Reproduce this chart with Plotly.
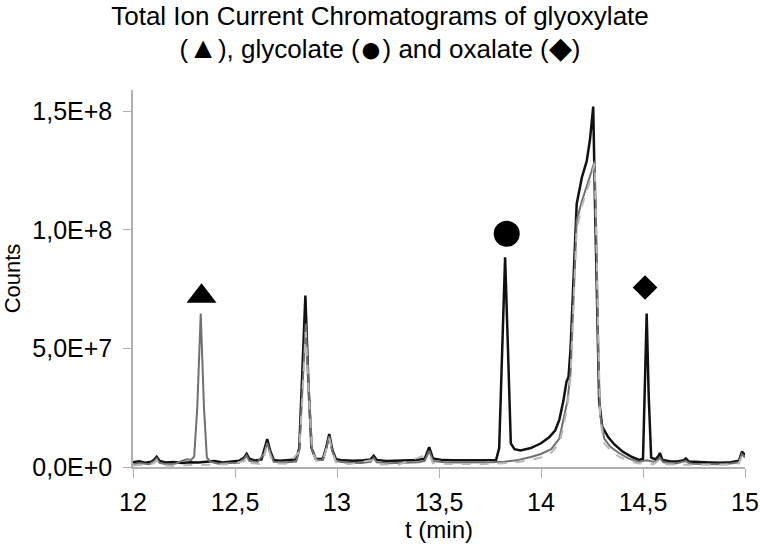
import plotly.graph_objects as go

# retention time (min) and counts (millions)
t_black = [12.00, 12.03, 12.06, 12.09, 12.105, 12.116, 12.13, 12.16, 12.20, 12.24, 12.28, 12.32, 12.36,
           12.40, 12.44, 12.48, 12.52, 12.545, 12.557, 12.57, 12.60, 12.63, 12.645, 12.658, 12.672, 12.69,
           12.72, 12.76, 12.80, 12.815, 12.828, 12.845, 12.86, 12.875, 12.895, 12.93, 12.945, 12.962, 12.978,
           12.995, 13.03, 13.08, 13.13, 13.165, 13.18, 13.195, 13.24, 13.29, 13.34, 13.39, 13.43, 13.452,
           13.47, 13.52, 13.57, 13.62, 13.67, 13.72, 13.78, 13.795, 13.81, 13.824, 13.838, 13.852, 13.87,
           13.90, 13.95, 14.00, 14.04, 14.07, 14.09, 14.11, 14.125, 14.135, 14.145, 14.16, 14.175, 14.20,
           14.224, 14.24, 14.256, 14.265, 14.275, 14.285, 14.30, 14.33, 14.36, 14.40, 14.44, 14.48, 14.50,
           14.508, 14.518, 14.528, 14.54, 14.56, 14.575, 14.583, 14.595, 14.63, 14.67, 14.70, 14.71, 14.725,
           14.78, 14.83, 14.88, 14.93, 14.97, 14.985, 15.00]
y_black = [2.0, 2.4, 1.8, 2.2, 3.2, 4.3, 2.6, 1.9, 2.1, 1.7, 2.0, 1.9, 2.2,
           2.5, 1.9, 2.4, 2.6, 4.0, 5.5, 3.5, 2.7, 3.2, 7.5, 11.8, 7.0, 3.0,
           2.6, 2.9, 3.2, 8.0, 35, 72.3, 35, 8, 3.5, 3.4, 7.5, 13.9, 7,
           3.3, 2.8, 2.6, 2.8, 3.2, 4.7, 3.0, 2.5, 2.7, 2.6, 3.0, 3.5, 8.4,
           3.6, 2.9, 2.8, 2.7, 2.6, 2.8, 3.0, 8, 50, 88.4, 50, 10, 7.5,
           7.0, 8.0, 10.0, 12.5, 15.5, 20, 28, 36, 38, 50, 78, 111, 122,
           129, 138, 152, 110, 65, 28, 17, 12.5, 9.5, 6.5, 4.5, 3.0, 3.5,
           30, 64.7, 30, 4, 3.2, 4.5, 5.9, 3.0, 2.4, 2.3, 2.9, 3.6, 2.3,
           2.0, 1.9, 1.8, 2.0, 2.6, 6.5, 5.0]

t_gray = [12.00, 12.04, 12.08, 12.105, 12.116, 12.13, 12.17, 12.21, 12.24, 12.265, 12.285, 12.30, 12.315,
          12.332, 12.348, 12.362, 12.38, 12.42, 12.47, 12.52, 12.545, 12.557, 12.57, 12.61, 12.645, 12.658,
          12.672, 12.69, 12.74, 12.80, 12.815, 12.83, 12.847, 12.863, 12.878, 12.90, 12.93, 12.945, 12.962,
          12.978, 12.995, 13.05, 13.12, 13.165, 13.18, 13.195, 13.26, 13.33, 13.40, 13.43, 13.452, 13.47,
          13.53, 13.60, 13.68, 13.75, 13.82, 13.88, 13.95, 14.00, 14.05, 14.09, 14.11, 14.13, 14.145, 14.16,
          14.175, 14.20, 14.224, 14.245, 14.263, 14.272, 14.28, 14.29, 14.31, 14.34, 14.38, 14.43, 14.48,
          14.52, 14.56, 14.583, 14.60, 14.66, 14.71, 14.73, 14.80, 14.87, 14.93, 14.97, 14.985, 15.00]
y_gray = [1.2, 1.6, 1.2, 2.5, 3.6, 1.8, 1.1, 1.5, 2.6, 3.3, 3.0, 4.5, 25,
          64.7, 25, 4, 2.2, 1.4, 1.7, 1.8, 3.5, 4.8, 2.6, 2.0, 6, 10.2,
          6, 2.2, 1.9, 2.3, 7, 30, 60.5, 30, 7, 3, 3, 7, 13,
          6.5, 2.5, 1.8, 1.7, 2.2, 3.8, 2.0, 1.6, 1.8, 2.0, 2.6, 6.8, 2.5,
          2.0, 1.9, 1.8, 2.0, 2.2, 2.8, 4.2, 5.5, 7.5, 12, 20, 28, 40, 70,
          104, 112, 118, 124, 129, 95, 50, 22, 12, 8.5, 6, 3.5, 2.2,
          2.8, 2.0, 3.8, 2.0, 1.5, 2.5, 1.4, 1.3, 1.2, 1.5, 2.0, 5.5, 4.0]

t_dash = [12.00, 12.05, 12.10, 12.116, 12.13, 12.18, 12.25, 12.32, 12.40, 12.48, 12.545, 12.557, 12.57,
          12.62, 12.645, 12.658, 12.672, 12.69, 12.76, 12.815, 12.83, 12.847, 12.863, 12.878, 12.90, 12.93,
          12.945, 12.962, 12.978, 12.995, 13.06, 13.18, 13.20, 13.30, 13.452, 13.47, 13.56, 13.70, 13.80,
          13.88, 13.95, 14.00, 14.05, 14.09, 14.11, 14.13, 14.145, 14.16, 14.175, 14.20, 14.224, 14.245,
          14.263, 14.272, 14.28, 14.29, 14.31, 14.34, 14.38, 14.43, 14.48, 14.55, 14.583, 14.60, 14.70,
          14.80, 14.90, 14.97, 14.985, 15.00]
y_dash = [0.6, 1.0, 1.5, 2.8, 1.0, 0.5, 0.8, 0.9, 1.0, 1.2, 2.5, 3.8, 1.8,
          1.3, 5, 9.5, 5, 1.5, 1.3, 6.5, 28, 57, 28, 6.5, 2.5, 2.5,
          6.5, 12, 6, 2.0, 1.2, 3, 1.1, 1.0, 5.5, 1.6, 1.3, 1.2, 1.5,
          2.0, 3.0, 4.0, 6.0, 10, 17, 26, 38, 68, 100, 110, 116, 122,
          128, 93, 48, 20, 10, 7, 4.5, 2.5, 1.5, 1.2, 3.0, 1.2, 1.0,
          0.8, 0.9, 1.5, 4.5, 3.0]

# peak labels: glyoxylate, glycolate, oxalate
mark_t = [12.336, 13.832, 14.51]
mark_y = [72, 98.4, 75.7]
mark_symbol = ["triangle-up", "circle", "diamond"]
mark_size = [26, 26, 19]

x_ticks = [12, 12.5, 13, 13.5, 14, 14.5, 15]
x_labels = ["12", "12,5", "13", "13,5", "14", "14,5", "15"]
y_ticks = [0, 50, 100, 150]
y_labels = ["0,0E+0", "5,0E+7", "1,0E+8", "1,5E+8"]

font = "Liberation Sans, Arial, sans-serif"

fig = go.Figure()
fig.add_trace(go.Scatter(x=t_black, y=y_black, mode="lines",
                         line=dict(color="#111111", width=2.5)))
fig.add_trace(go.Scatter(x=t_gray, y=y_gray, mode="lines",
                         line=dict(color="#707070", width=2)))
fig.add_trace(go.Scatter(x=t_dash, y=y_dash, mode="lines",
                         line=dict(color="#b8b8b8", width=2, dash="dash")))
fig.add_trace(go.Scatter(x=mark_t, y=mark_y, mode="markers",
                         marker=dict(symbol=mark_symbol, size=mark_size, color="black",
                                     opacity=1, line=dict(width=0))))

sym = '<span style="font-size:{}px;baseline-shift:{}px">{}</span>'
title_text = ("Total Ion Current Chromatograms of glyoxylate<br>"
              "(" + sym.format(30, 0, "▲") + "), glycolate (" + sym.format(38, -4, "●")
              + ") and oxalate (" + sym.format(30, 0, "◆") + ")")

fig.update_layout(
    width=760, height=548,
    paper_bgcolor="white", plot_bgcolor="white",
    showlegend=False,
    margin=dict(l=133, r=15, t=90, b=81, autoexpand=False),
    font=dict(family=font, size=25, color="black"),
    title=dict(
        text=title_text,
        x=0.5, xanchor="center", y=0.955, yanchor="top",
        font=dict(family=font, size=26, color="black"),
    ),
    xaxis=dict(
        range=[12, 15], tickvals=x_ticks, ticktext=x_labels,
        showgrid=False, zeroline=False, automargin=False,
        showline=True, linecolor="#b0b0b0", linewidth=1.5,
        ticks="outside", ticklen=9, tickcolor="#b0b0b0", ticklabelstandoff=3,
        title=dict(text="t (min)", standoff=6, font=dict(size=24)),
    ),
    yaxis=dict(
        range=[0, 159], tickvals=y_ticks, ticktext=y_labels,
        showgrid=False, zeroline=False, automargin=False,
        showline=True, linecolor="#b0b0b0", linewidth=1.5,
        ticks="outside", ticklen=8, tickcolor="#b0b0b0", ticklabelstandoff=6,
        title=dict(text="Counts", standoff=8, font=dict(size=22)),
    ),
)

fig.write_html("out.html", config={"displayModeBar": False},
               post_script="document.body.style.margin='0';")
